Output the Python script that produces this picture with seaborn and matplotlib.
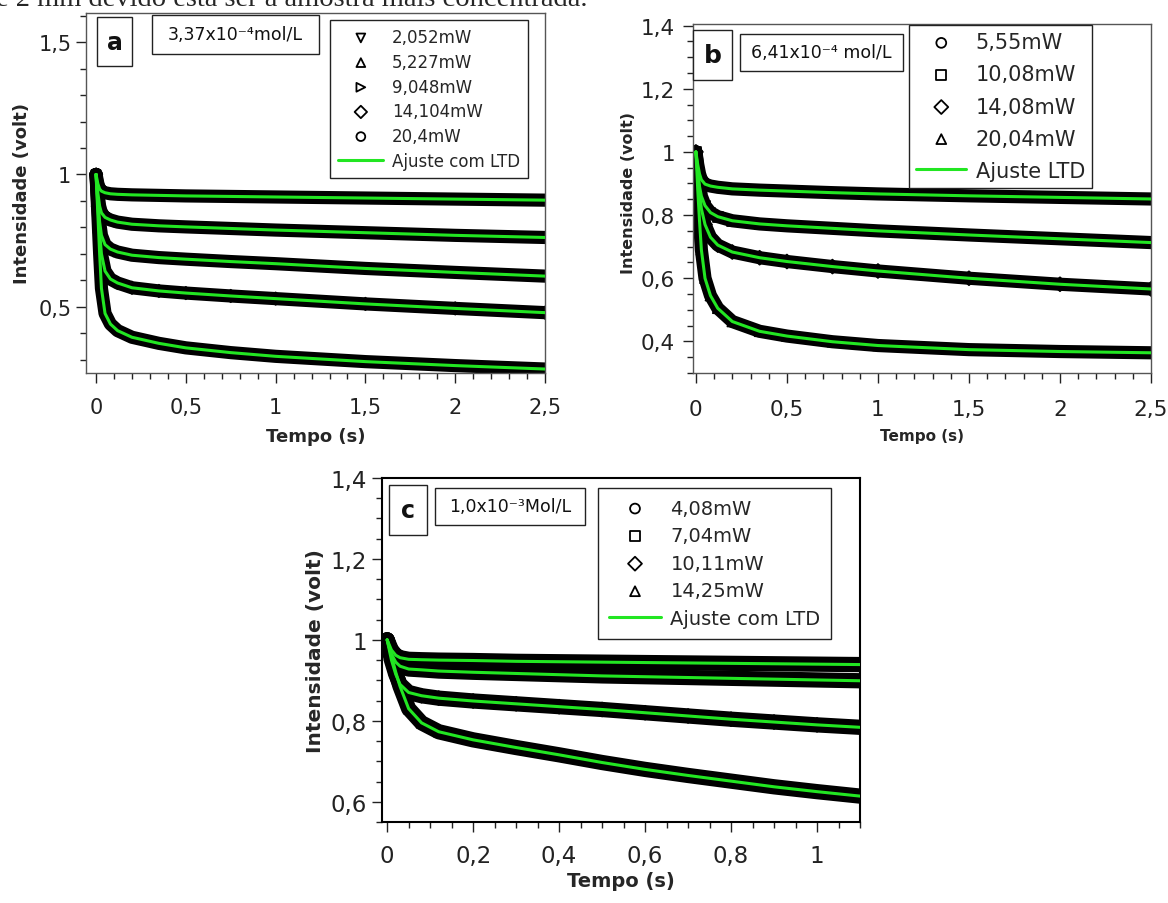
import matplotlib
matplotlib.use("Agg")
import matplotlib.pyplot as plt
import seaborn as sns
from matplotlib.patches import Rectangle
from matplotlib.ticker import MultipleLocator, FuncFormatter

# ---------------- data ----------------
# panel a : 3,37x10^-4 mol/L
time_a = [0, 0.01, 0.02, 0.03, 0.05, 0.08, 0.12, 0.2, 0.35, 0.5, 0.75, 1.0, 1.5, 2.0, 2.5]
a_2052 = [1.0, 0.965, 0.945, 0.937, 0.931, 0.927, 0.925, 0.923, 0.921, 0.919, 0.917, 0.915, 0.911, 0.907, 0.903]
a_5227 = [1.0, 0.93, 0.88, 0.855, 0.838, 0.828, 0.82, 0.812, 0.806, 0.802, 0.796, 0.79, 0.78, 0.77, 0.762]
a_9048 = [1.0, 0.9, 0.82, 0.77, 0.735, 0.718, 0.707, 0.695, 0.686, 0.68, 0.671, 0.663, 0.645, 0.63, 0.616]
a_14104 = [1.0, 0.88, 0.78, 0.70, 0.635, 0.605, 0.59, 0.572, 0.56, 0.552, 0.541, 0.531, 0.511, 0.494, 0.478]
a_204 = [1.0, 0.85, 0.7, 0.57, 0.475, 0.435, 0.41, 0.385, 0.362, 0.345, 0.327, 0.313, 0.293, 0.278, 0.265]
labels_a = ["2,052mW", "5,227mW", "9,048mW", "14,104mW", "20,4mW"]
markers_a = ["v", "^", ">", "D", "o"]

# panel b : 6,41x10^-4 mol/L
time_b = [0, 0.01, 0.02, 0.03, 0.05, 0.08, 0.12, 0.2, 0.35, 0.5, 0.75, 1.0, 1.5, 2.0, 2.5]
b_555 = [1.0, 0.96, 0.93, 0.912, 0.898, 0.892, 0.888, 0.883, 0.879, 0.876, 0.871, 0.867, 0.861, 0.856, 0.851]
b_1008 = [1.0, 0.94, 0.89, 0.86, 0.83, 0.808, 0.795, 0.782, 0.772, 0.766, 0.758, 0.75, 0.737, 0.725, 0.713]
b_1408 = [1.0, 0.93, 0.87, 0.82, 0.77, 0.73, 0.705, 0.683, 0.665, 0.653, 0.637, 0.623, 0.6, 0.581, 0.566]
b_2004 = [1.0, 0.88, 0.78, 0.69, 0.6, 0.545, 0.505, 0.463, 0.432, 0.417, 0.399, 0.387, 0.374, 0.368, 0.364]
labels_b = ["5,55mW", "10,08mW", "14,08mW", "20,04mW"]
markers_b = ["o", "s", "D", "^"]

# panel c : 1,0x10^-3 mol/L
time_c = [0, 0.01, 0.02, 0.03, 0.05, 0.08, 0.12, 0.2, 0.3, 0.4, 0.5, 0.6, 0.7, 0.8, 0.9, 1.0, 1.1]
c_408 = [1.0, 0.975, 0.962, 0.956, 0.952, 0.951, 0.95, 0.949, 0.947, 0.946, 0.945, 0.944, 0.943, 0.942, 0.941, 0.94, 0.939]
c_704 = [1.0, 0.965, 0.945, 0.935, 0.928, 0.926, 0.923, 0.92, 0.917, 0.914, 0.911, 0.909, 0.907, 0.905, 0.903, 0.901, 0.899]
c_1011 = [1.0, 0.95, 0.915, 0.89, 0.87, 0.862, 0.856, 0.849, 0.842, 0.835, 0.828, 0.82, 0.812, 0.804, 0.797, 0.79, 0.784]
c_1425 = [1.0, 0.96, 0.92, 0.885, 0.83, 0.795, 0.773, 0.753, 0.734, 0.716, 0.697, 0.68, 0.665, 0.651, 0.637, 0.625, 0.614]
labels_c = ["4,08mW", "7,04mW", "10,11mW", "14,25mW"]
markers_c = ["o", "s", "D", "^"]

# ---------------- styling ----------------
sns.set_theme(style="ticks")
plt.rcParams["font.family"] = ["DejaVu Sans"]
GREEN = "#22e622"
W, H = 1168, 904
fig = plt.figure(figsize=(W / 100, H / 100), dpi=100)


def px_axes(l, t, r, b):
    return fig.add_axes([l / W, 1 - b / H, (r - l) / W, (b - t) / H])


def px_box(l, t, r, b, text, size, weight="normal"):
    fig.add_artist(Rectangle((l / W, 1 - b / H), (r - l) / W, (b - t) / H,
                             transform=fig.transFigure, facecolor="white",
                             edgecolor="#222222", lw=1.0, zorder=5))
    fig.text((l + r) / 2 / W, 1 - (t + b) / 2 / H, text, ha="center", va="center",
             fontsize=size, fontweight=weight, color="#111111", zorder=6)


comma = FuncFormatter(lambda v, p: ("%g" % round(v, 3)).replace(".", ","))


def draw_panel(ax, t, series, labels, markers, band_lw, msize, fit_label):
    handles = []
    for vals, lab, mk in zip(series, labels, markers):
        sns.lineplot(x=t, y=vals, ax=ax, color="black", linewidth=band_lw,
                     sort=False, estimator=None, legend=False, zorder=1)
        h = ax.scatter(t, vals, marker=mk, s=msize, facecolors="none",
                       edgecolors="black", linewidths=1.3, zorder=1.5, label=lab)
        handles.append(h)
    fit = None
    for vals in series:
        sns.lineplot(x=t, y=vals, ax=ax, color=GREEN, linewidth=2.2,
                     sort=False, estimator=None, legend=False, zorder=3)
        if fit is None:
            fit = ax.lines[-1]
    fit.set_label(fit_label)
    return handles + [fit], labels + [fit_label]


def style_axes(ax, xlim, ylim, xmaj, xmin, ymaj, ymin, lsize, xpad, ypad,
               spine_color, spine_lw):
    ax.set_xlim(*xlim)
    ax.set_ylim(*ylim)
    ax.xaxis.set_major_locator(MultipleLocator(xmaj))
    ax.xaxis.set_minor_locator(MultipleLocator(xmin))
    ax.yaxis.set_major_locator(MultipleLocator(ymaj))
    ax.yaxis.set_minor_locator(MultipleLocator(ymin))
    ax.xaxis.set_major_formatter(comma)
    ax.yaxis.set_major_formatter(comma)
    for s in ax.spines.values():
        s.set_visible(True)
        s.set_color(spine_color)
        s.set_linewidth(spine_lw)
    ax.tick_params(which="both", direction="out", colors="#222222",
                   top=False, right=False)
    ax.tick_params(which="major", length=7, width=1.0, labelsize=lsize)
    ax.tick_params(which="minor", length=4, width=1.0)
    ax.tick_params(axis="x", which="major", pad=xpad)
    ax.tick_params(axis="y", which="major", pad=ypad)
    ax.set_facecolor("white")


def add_legend(ax, h, l, anchor, size, bpad, lspace, hlen, htpad):
    leg = ax.legend(h, l, loc="upper left", bbox_to_anchor=anchor,
                    borderaxespad=0, frameon=True, fancybox=False, framealpha=1,
                    edgecolor="#222222", fontsize=size, borderpad=bpad,
                    labelspacing=lspace, handlelength=hlen, handletextpad=htpad,
                    scatterpoints=1)
    leg.get_frame().set_linewidth(1.0)
    return leg


# ---------------- panel a ----------------
ax_a = px_axes(86, 14, 545, 374)
h, l = draw_panel(ax_a, time_a, [a_2052, a_5227, a_9048, a_14104, a_204],
                  labels_a, markers_a, 9.5, 40, "Ajuste com LTD")
style_axes(ax_a, (-0.056, 2.5), (0.25, 1.61), 0.5, 0.1, 0.5, 0.1, 15, 10, 3.5,
           "#555555", 1.0)
ax_a.set_xlabel("Tempo (s)", fontsize=13, fontweight="bold")
ax_a.set_ylabel("Intensidade (volt)", fontsize=13, fontweight="bold")
ax_a.xaxis.set_label_coords(0.5, -0.15)
ax_a.yaxis.set_label_coords(-0.12, 0.5)
add_legend(ax_a, h, l, (0.5316, 0.9806), 12, 0.5, 0.4, 2.7, 0.5)
px_box(97, 18, 132, 67, "a", 17, "bold")
px_box(152, 16, 319, 55, "3,37x10⁻⁴mol/L", 12.5)

# ---------------- panel b ----------------
ax_b = px_axes(693, 25, 1151, 374)
h, l = draw_panel(ax_b, time_b, [b_555, b_1008, b_1408, b_2004],
                  labels_b, markers_b, 9.5, 50, "Ajuste LTD")
style_axes(ax_b, (-0.016, 2.5), (0.3, 1.405), 0.5, 0.1, 0.2, 0.05, 15.5, 12, 6,
           "#555555", 1.0)
ax_b.set_xlabel("Tempo (s)", fontsize=11, fontweight="bold")
ax_b.set_ylabel("Intensidade (volt)", fontsize=11.5, fontweight="bold")
ax_b.xaxis.set_label_coords(0.5, -0.158)
ax_b.yaxis.set_label_coords(-0.124, 0.52)
add_legend(ax_b, h, l, (0.4716, 0.997), 15, 0.35, 0.58, 2.4, 0.45)
px_box(693, 31, 732, 81, "b", 18, "bold")
px_box(740, 35, 903, 72, "6,41x10⁻⁴ mol/L", 12.5)

# ---------------- panel c ----------------
ax_c = px_axes(382, 479, 860, 823)
h, l = draw_panel(ax_c, time_c, [c_408, c_704, c_1011, c_1425],
                  labels_c, markers_c, 11, 50, "Ajuste com LTD")
style_axes(ax_c, (-0.012, 1.1), (0.55, 1.4), 0.2, 0.05, 0.2, 0.05, 16.5, 9, 4,
           "black", 1.5)
ax_c.set_xlabel("Tempo (s)", fontsize=14, fontweight="bold")
ax_c.set_ylabel("Intensidade (volt)", fontsize=14.5, fontweight="bold")
ax_c.xaxis.set_label_coords(0.5, -0.143)
ax_c.yaxis.set_label_coords(-0.119, 0.5)
add_legend(ax_c, h, l, (0.452, 0.971), 14, 0.55, 0.44, 2.7, 0.47)
px_box(389, 486, 427, 536, "c", 17, "bold")
px_box(435, 489, 585, 526, "1,0x10⁻³Mol/L", 12.5)

# cut-off line of document text at the very top
fig.text(-4 / W, 1 - 6 / H, "e 2 mm devido esta ser a amostra mais concentrada.",
         fontsize=20.5, family="Liberation Serif", va="baseline", ha="left")

fig.savefig("out.png", dpi=100)
